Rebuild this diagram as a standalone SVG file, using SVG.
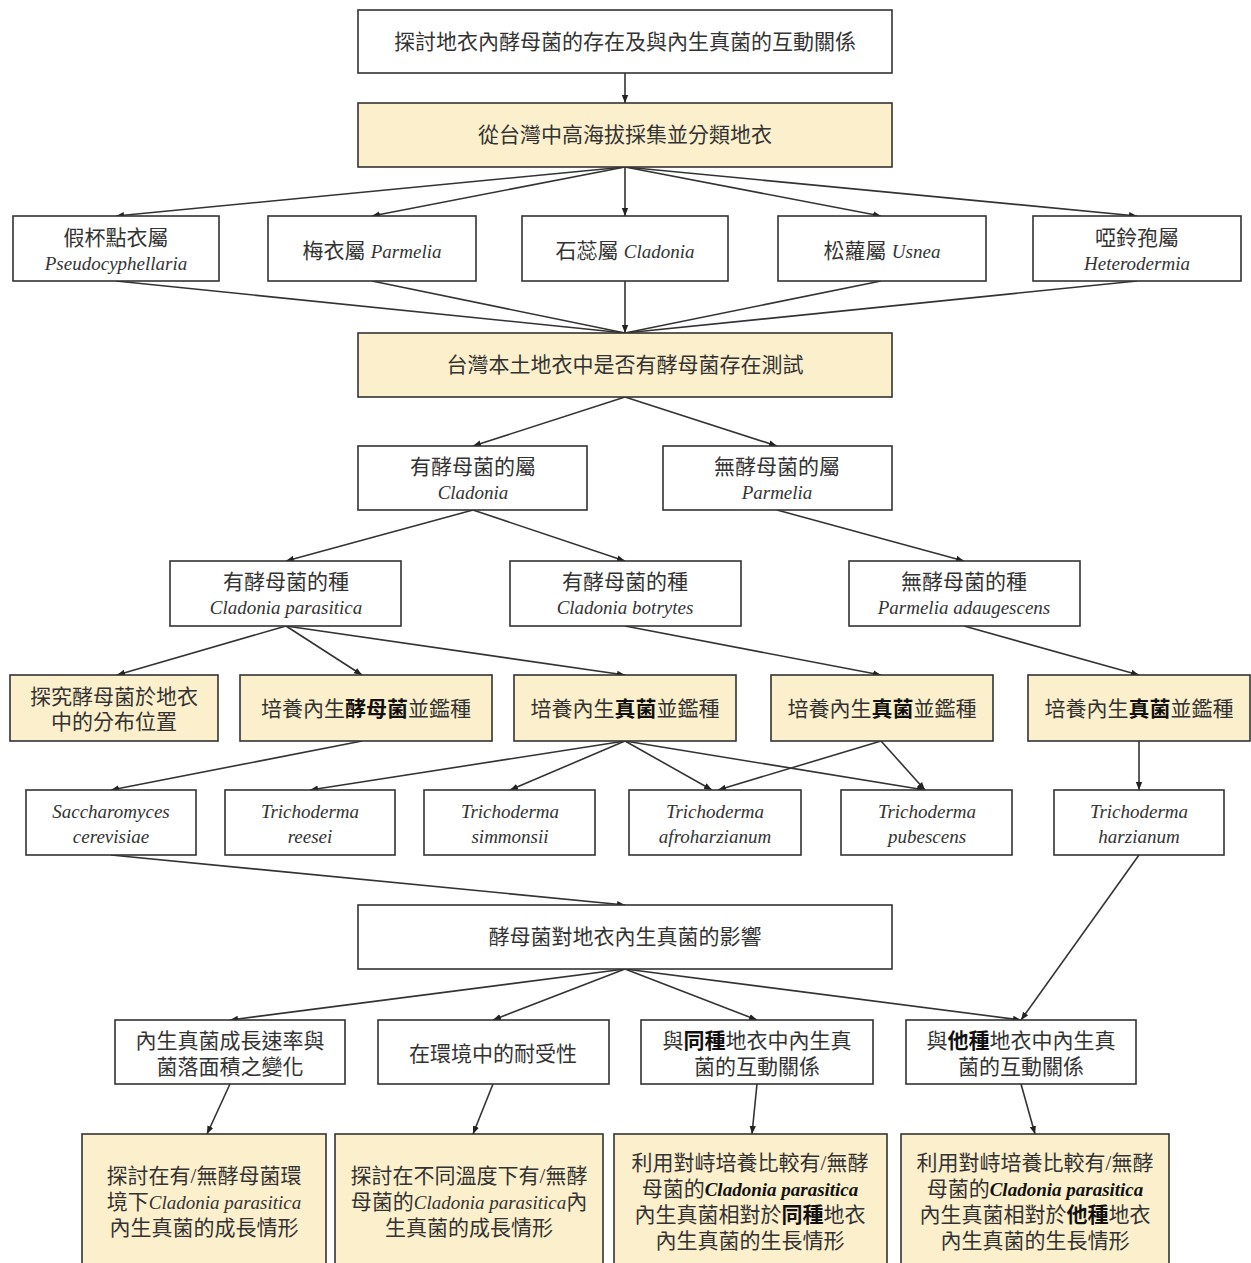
<svg xmlns="http://www.w3.org/2000/svg" width="1251" height="1263" viewBox="0 0 1251 1263">
<style>
.b{fill:#fff;stroke:#333;stroke-width:1.6}
.y{fill:#fcefcc;stroke:#333;stroke-width:1.6}
text{font-family:"Liberation Serif","Noto Sans CJK TC",serif;font-size:21px;fill:#333;text-anchor:middle}
.i{font-style:italic;font-size:19px}
.k{font-weight:bold;fill:#111}
#edges line{stroke:#333;stroke-width:1.6;marker-end:url(#ah)}
#edges line.n{marker-end:none}
</style>
<defs>
<marker id="ah" viewBox="0 0 10 10" refX="10" refY="5" markerWidth="8" markerHeight="8" markerUnits="userSpaceOnUse" orient="auto">
<path d="M0,1 L10,5 L0,9 z" fill="#222"/>
</marker>
</defs>
<rect width="1251" height="1263" fill="#fff"/>
<g id="edges">
<line x1="625" y1="73" x2="625" y2="103"/>
<line x1="625" y1="167" x2="116" y2="216"/>
<line x1="625" y1="167" x2="372" y2="216"/>
<line x1="625" y1="167" x2="625" y2="216"/>
<line x1="625" y1="167" x2="881" y2="216"/>
<line x1="625" y1="167" x2="1137" y2="216"/>
<line class="n" x1="116" y1="281" x2="625" y2="333"/>
<line class="n" x1="372" y1="281" x2="625" y2="333"/>
<line x1="625" y1="281" x2="625" y2="333"/>
<line class="n" x1="881" y1="281" x2="625" y2="333"/>
<line class="n" x1="1137" y1="281" x2="625" y2="333"/>
<line x1="625" y1="397" x2="473" y2="446"/>
<line x1="625" y1="397" x2="777" y2="446"/>
<line x1="473" y1="510" x2="286" y2="561"/>
<line x1="473" y1="510" x2="625" y2="561"/>
<line x1="777" y1="510" x2="964" y2="561"/>
<line x1="286" y1="626" x2="117" y2="675"/>
<line x1="286" y1="626" x2="362" y2="675"/>
<line x1="286" y1="626" x2="625" y2="675"/>
<line x1="625" y1="626" x2="881" y2="675"/>
<line x1="964" y1="626" x2="1139" y2="675"/>
<line x1="362" y1="741" x2="111" y2="790"/>
<line x1="625" y1="741" x2="310" y2="790"/>
<line x1="625" y1="741" x2="510" y2="790"/>
<line x1="625" y1="741" x2="712" y2="790"/>
<line x1="625" y1="741" x2="925" y2="790"/>
<line x1="881" y1="741" x2="718" y2="790"/>
<line x1="881" y1="741" x2="925" y2="790"/>
<line x1="1139" y1="741" x2="1139" y2="790"/>
<line x1="111" y1="855" x2="625" y2="905"/>
<line x1="1139" y1="855" x2="1021" y2="1020"/>
<line x1="625" y1="969" x2="230" y2="1020"/>
<line x1="625" y1="969" x2="493" y2="1020"/>
<line x1="625" y1="969" x2="757" y2="1020"/>
<line x1="625" y1="969" x2="1021" y2="1020"/>
<line x1="230" y1="1084" x2="207" y2="1134"/>
<line x1="493" y1="1084" x2="473" y2="1134"/>
<line x1="757" y1="1084" x2="752" y2="1134"/>
<line x1="1021" y1="1084" x2="1035" y2="1134"/>
</g>
<g id="n1"><rect class="b" x="358" y="10" width="534" height="63"/><text x="625" y="49">探討地衣內酵母菌的存在及與內生真菌的互動關係</text></g>
<g id="n2"><rect class="y" x="358" y="103" width="534" height="64"/><text x="625" y="142">從台灣中高海拔採集並分類地衣</text></g>
<g id="g1"><rect class="b" x="13" y="216" width="206" height="65"/><text x="116" y="245">假杯點衣屬</text><text class="i" x="116" y="270">Pseudocyphellaria</text></g>
<g id="g2"><rect class="b" x="268" y="216" width="208" height="65"/><text x="372" y="258">梅衣屬 <tspan class="i">Parmelia</tspan></text></g>
<g id="g3"><rect class="b" x="522" y="216" width="206" height="65"/><text x="625" y="258">石蕊屬 <tspan class="i">Cladonia</tspan></text></g>
<g id="g4"><rect class="b" x="778" y="216" width="208" height="65"/><text x="882" y="258">松蘿屬 <tspan class="i">Usnea</tspan></text></g>
<g id="g5"><rect class="b" x="1033" y="216" width="208" height="65"/><text x="1137" y="245">啞鈴孢屬</text><text class="i" x="1137" y="270">Heterodermia</text></g>
<g id="n3"><rect class="y" x="358" y="333" width="534" height="64"/><text x="625" y="372">台灣本土地衣中是否有酵母菌存在測試</text></g>
<g id="h1"><rect class="b" x="358" y="446" width="229" height="64"/><text x="473" y="474">有酵母菌的屬</text><text class="i" x="473" y="499">Cladonia</text></g>
<g id="h2"><rect class="b" x="663" y="446" width="229" height="64"/><text x="777" y="474">無酵母菌的屬</text><text class="i" x="777" y="499">Parmelia</text></g>
<g id="s1"><rect class="b" x="170" y="561" width="231" height="65"/><text x="286" y="589">有酵母菌的種</text><text class="i" x="286" y="614">Cladonia parasitica</text></g>
<g id="s2"><rect class="b" x="510" y="561" width="231" height="65"/><text x="625" y="589">有酵母菌的種</text><text class="i" x="625" y="614">Cladonia botrytes</text></g>
<g id="s3"><rect class="b" x="849" y="561" width="231" height="65"/><text x="964" y="589">無酵母菌的種</text><text class="i" x="964" y="614">Parmelia adaugescens</text></g>
<g id="c1"><rect class="y" x="10" y="675" width="208" height="66"/><text x="114" y="704">探究酵母菌於地衣</text><text x="114" y="729">中的分布位置</text></g>
<g id="c2"><rect class="y" x="240" y="675" width="252" height="66"/><text x="366" y="716">培養內生<tspan class="k">酵母菌</tspan>並鑑種</text></g>
<g id="c3"><rect class="y" x="514" y="675" width="222" height="66"/><text x="625" y="716">培養內生<tspan class="k">真菌</tspan>並鑑種</text></g>
<g id="c4"><rect class="y" x="771" y="675" width="222" height="66"/><text x="882" y="716">培養內生<tspan class="k">真菌</tspan>並鑑種</text></g>
<g id="c5"><rect class="y" x="1028" y="675" width="222" height="66"/><text x="1139" y="716">培養內生<tspan class="k">真菌</tspan>並鑑種</text></g>
<g id="f1"><rect class="b" x="26" y="790" width="170" height="65"/><text class="i" x="111" y="818">Saccharomyces</text><text class="i" x="111" y="843">cerevisiae</text></g>
<g id="f2"><rect class="b" x="225" y="790" width="170" height="65"/><text class="i" x="310" y="818">Trichoderma</text><text class="i" x="310" y="843">reesei</text></g>
<g id="f3"><rect class="b" x="424" y="790" width="171" height="65"/><text class="i" x="510" y="818">Trichoderma</text><text class="i" x="510" y="843">simmonsii</text></g>
<g id="f4"><rect class="b" x="629" y="790" width="172" height="65"/><text class="i" x="715" y="818">Trichoderma</text><text class="i" x="715" y="843">afroharzianum</text></g>
<g id="f5"><rect class="b" x="841" y="790" width="171" height="65"/><text class="i" x="927" y="818">Trichoderma</text><text class="i" x="927" y="843">pubescens</text></g>
<g id="f6"><rect class="b" x="1054" y="790" width="170" height="65"/><text class="i" x="1139" y="818">Trichoderma</text><text class="i" x="1139" y="843">harzianum</text></g>
<g id="n4"><rect class="b" x="358" y="905" width="534" height="64"/><text x="625" y="944">酵母菌對地衣內生真菌的影響</text></g>
<g id="e1"><rect class="b" x="115" y="1020" width="230" height="64"/><text x="230" y="1048">內生真菌成長速率與</text><text x="230" y="1074">菌落面積之變化</text></g>
<g id="e2"><rect class="b" x="378" y="1020" width="231" height="64"/><text x="493" y="1061">在環境中的耐受性</text></g>
<g id="e3"><rect class="b" x="641" y="1020" width="232" height="64"/><text x="757" y="1048">與<tspan class="k">同種</tspan>地衣中內生真</text><text x="757" y="1074">菌的互動關係</text></g>
<g id="e4"><rect class="b" x="906" y="1020" width="230" height="64"/><text x="1021" y="1048">與<tspan class="k">他種</tspan>地衣中內生真</text><text x="1021" y="1074">菌的互動關係</text></g>
<g id="d1"><rect class="y" x="82" y="1134" width="244" height="140"/><text x="204" y="1183">探討在有/無酵母菌環</text><text x="204" y="1209">境下<tspan class="i">Cladonia parasitica</tspan></text><text x="204" y="1235">內生真菌的成長情形</text></g>
<g id="d2"><rect class="y" x="335" y="1134" width="268" height="140"/><text x="469" y="1183">探討在不同溫度下有/無酵</text><text x="469" y="1209">母菌的<tspan class="i">Cladonia parasitica</tspan>內</text><text x="469" y="1235">生真菌的成長情形</text></g>
<g id="d3"><rect class="y" x="614" y="1134" width="273" height="140"/><text x="750" y="1170">利用對峙培養比較有/無酵</text><text x="750" y="1196">母菌的<tspan class="i k">Cladonia parasitica</tspan></text><text x="750" y="1222">內生真菌相對於<tspan class="k">同種</tspan>地衣</text><text x="750" y="1248">內生真菌的生長情形</text></g>
<g id="d4"><rect class="y" x="901" y="1134" width="268" height="140"/><text x="1035" y="1170">利用對峙培養比較有/無酵</text><text x="1035" y="1196">母菌的<tspan class="i k">Cladonia parasitica</tspan></text><text x="1035" y="1222">內生真菌相對於<tspan class="k">他種</tspan>地衣</text><text x="1035" y="1248">內生真菌的生長情形</text></g>
</svg>
